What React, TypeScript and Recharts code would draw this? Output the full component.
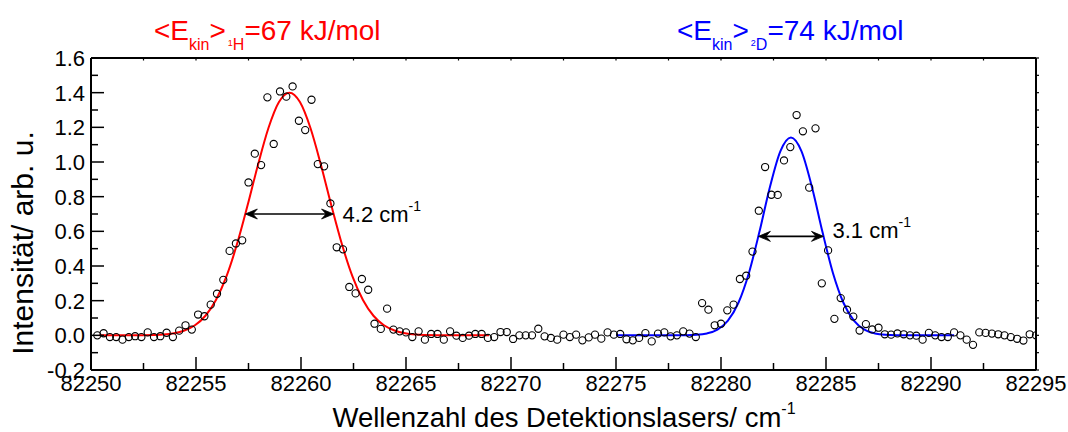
import React from "react";
import { ComposedChart, XAxis, YAxis, Scatter, Line, ReferenceLine } from "recharts";

const FONT = "Arial, 'Liberation Sans', Helvetica, sans-serif";

// Scan positions of the detection laser (cm^-1)
const scanX = [
  82250.3, 82250.6, 82250.9, 82251.2, 82251.5, 82251.8, 82252.1, 82252.4, 82252.7, 82253.0,
  82253.3, 82253.6, 82253.9, 82254.2, 82254.5, 82254.8, 82255.1, 82255.4, 82255.7, 82256.0,
  82256.3, 82256.6, 82256.9, 82257.2, 82257.5, 82257.8, 82258.1, 82258.4, 82258.7, 82259.0,
  82259.3, 82259.6, 82259.9, 82260.2, 82260.5, 82260.8, 82261.1, 82261.4, 82261.7, 82262.0,
  82262.3, 82262.6, 82262.9, 82263.2, 82263.5, 82263.8, 82264.1, 82264.4, 82264.7, 82265.0,
  82265.3, 82265.6, 82265.9, 82266.2, 82266.5, 82266.8, 82267.1, 82267.4, 82267.7, 82268.0,
  82268.3, 82268.6, 82268.9, 82269.2, 82269.5, 82269.8, 82270.1, 82270.4, 82270.7, 82271.0,
  82271.3, 82271.6, 82271.9, 82272.2, 82272.5, 82272.8, 82273.1, 82273.4, 82273.7, 82274.0,
  82274.3, 82274.6, 82274.9, 82275.2, 82275.5, 82275.8, 82276.1, 82276.4, 82276.7, 82277.0,
  82277.3, 82277.6, 82277.9, 82278.2, 82278.5, 82278.8, 82279.1, 82279.4, 82279.7, 82280.0,
  82280.3, 82280.6, 82280.9, 82281.2, 82281.5, 82281.8, 82282.1, 82282.4, 82282.7, 82283.0,
  82283.3, 82283.6, 82283.9, 82284.2, 82284.5, 82284.8, 82285.1, 82285.4, 82285.7, 82286.0,
  82286.3, 82286.6, 82286.9, 82287.2, 82287.5, 82287.8, 82288.1, 82288.4, 82288.7, 82289.0,
  82289.3, 82289.6, 82289.9, 82290.2, 82290.5, 82290.8, 82291.1, 82291.4, 82291.7, 82292.0,
  82292.3, 82292.6, 82292.9, 82293.2, 82293.5, 82293.8, 82294.1, 82294.4, 82294.7, 82295.0,
];

// Measured signal intensity (arb. u.)
const scanY = [
  0.0, 0.012, -0.01, -0.01, -0.025, -0.01, -0.005, -0.01, 0.017, -0.01,
  -0.005, 0.015, -0.01, 0.027, 0.058, 0.033, 0.12, 0.11, 0.177, 0.24,
  0.32, 0.487, 0.53, 0.548, 0.882, 1.048, 0.982, 1.373, 1.104, 1.407,
  1.377, 1.436, 1.238, 1.184, 1.359, 0.988, 0.975, 0.761, 0.508, 0.496,
  0.279, 0.242, 0.325, 0.263, 0.067, 0.037, 0.154, 0.033, 0.023, 0.017,
  -0.01, 0.023, -0.025, 0.008, 0.008, -0.025, 0.023, -0.002, -0.015, -0.002,
  0.008, 0.008, -0.015, -0.01, 0.019, 0.019, -0.021, 0.0, 0.0, 0.0,
  0.038, -0.006, -0.015, -0.025, 0.004, -0.01, 0.004, -0.029, -0.012, 0.004,
  -0.019, 0.017, 0.004, 0.008, -0.023, -0.029, -0.015, 0.013, -0.035, 0.01,
  0.017, -0.006, 0.0, 0.023, 0.01, -0.01, 0.186, 0.148, 0.058, 0.067,
  0.144, 0.177, 0.325, 0.344, 0.483, 0.719, 0.971, 0.811, 0.81, 1.009,
  1.086, 1.271, 1.177, 0.852, 1.194, 0.3, 0.49, 0.095, 0.215, 0.148,
  0.108, 0.028, 0.065, 0.034, 0.044, 0.006, 0.004, 0.011, 0.006, 0.0,
  -0.002, -0.025, 0.014, 0.0, -0.01, -0.01, 0.017, 0.0, -0.025, -0.055,
  0.017, 0.014, 0.01, 0.006, 0.0, -0.01, -0.02, -0.03, 0.006, 0.0,
];

// Gaussian fit of the 1H line
const redFitX = [
  82250.4, 82251.45, 82252.45, 82253.45, 82253.95, 82254.45, 82254.95, 82255.45, 82255.95, 82256.45,
  82256.95, 82257.45, 82257.95, 82258.45, 82258.95, 82259.45, 82259.95, 82260.45, 82260.95, 82261.45,
  82261.95, 82262.45, 82262.95, 82263.45, 82263.95, 82264.45, 82264.95, 82265.45, 82266.45, 82267.45,
  82268.95,
];
const redFitY = [
  0, 0, 0.001, 0.005, 0.012, 0.028, 0.058, 0.113, 0.204, 0.34,
  0.525, 0.747, 0.983, 1.196, 1.346, 1.4, 1.346, 1.196, 0.983, 0.747,
  0.525, 0.34, 0.204, 0.113, 0.058, 0.028, 0.012, 0.005, 0.001, 0,
  0,
];

// Gaussian fit of the 2D line
const blueFitX = [
  82275.0, 82277.33, 82278.33, 82278.83, 82279.33, 82279.83, 82280.33, 82280.83, 82281.33, 82281.83,
  82282.33, 82282.83, 82283.33, 82283.83, 82284.33, 82284.83, 82285.33, 82285.83, 82286.33, 82286.83,
  82287.33, 82287.83, 82288.33, 82289.33, 82291.1,
];
const blueFitY = [
  0, 0, 0.001, 0.003, 0.011, 0.033, 0.085, 0.188, 0.36, 0.597,
  0.856, 1.063, 1.142, 1.063, 0.856, 0.597, 0.36, 0.188, 0.085, 0.033,
  0.011, 0.003, 0.001, 0, 0,
];

// Fit parameters: line centre, peak height, full width at half maximum
const redCenter = 82259.45;
const redPeak = 1.4;
const redFwhm = 4.2;
const blueCenter = 82283.33;
const bluePeak = 1.142;
const blueFwhm = 3.1;

const xTicks = [
  82250, 82252.5, 82255, 82257.5, 82260, 82262.5, 82265, 82267.5, 82270, 82272.5,
  82275, 82277.5, 82280, 82282.5, 82285, 82287.5, 82290, 82292.5, 82295,
];
const yTicks = [
  -0.2, -0.1, 0, 0.1, 0.2, 0.3, 0.4, 0.5, 0.6, 0.7, 0.8, 0.9, 1.0, 1.1, 1.2, 1.3, 1.4, 1.5, 1.6,
];

const scanPoints = scanX.map((x, i) => ({ x, y: scanY[i] }));
const redFit = redFitX.map((x, i) => ({ x, y: redFitY[i] }));
const blueFit = blueFitX.map((x, i) => ({ x, y: blueFitY[i] }));

const isMajorX = (v: number) => Math.abs(v / 5 - Math.round(v / 5)) < 1e-6;
const isMajorY = (v: number) => Math.round(v * 10) % 2 === 0;

const BottomTick = (props: any) => {
  const { x, y, payload } = props;
  const v = payload.value as number;
  const major = isMajorX(v);
  return (
    <g>
      <line x1={x} x2={x} y1={y} y2={y - (major ? 13 : 7)} stroke="#000" strokeWidth={1.5} />
      {major && (
        <text x={x} y={y + 21} textAnchor="middle" fontSize={22} fontFamily={FONT} fill="#000">
          {v}
        </text>
      )}
    </g>
  );
};

const TopTick = (props: any) => {
  const { x, y } = props;
  return <line x1={x} x2={x} y1={y} y2={y + 2.5} stroke="#000" strokeWidth={1.2} />;
};

const LeftTick = (props: any) => {
  const { x, y, payload } = props;
  const v = payload.value as number;
  const major = isMajorY(v);
  return (
    <g>
      <line x1={x} x2={x + (major ? 13 : 7)} y1={y} y2={y} stroke="#000" strokeWidth={1.5} />
      {major && (
        <text x={x - 6} y={y + 8} textAnchor="end" fontSize={22} fontFamily={FONT} fill="#000">
          {v.toFixed(1)}
        </text>
      )}
    </g>
  );
};

const RightTick = (props: any) => {
  const { x, y } = props;
  return <line x1={x} x2={x + 3} y1={y} y2={y} stroke="#000" strokeWidth={1.2} />;
};

const HollowCircle = (props: any) => {
  const { cx, cy } = props;
  if (cx == null || cy == null) return <g />;
  return <circle cx={cx} cy={cy} r={3.6} fill="none" stroke="#000" strokeWidth={1.1} />;
};

// Double-headed arrow spanning the FWHM, with its width written beside it
const makeFwhmArrow = (fwhm: number, labelDy: number) => (props: any) => {
  const { x1, y1, x2 } = props;
  const left = Math.min(x1, x2);
  const right = Math.max(x1, x2);
  const y = y1;
  const head = (tip: number, dir: number) =>
    `M${tip},${y} L${tip + dir * 12},${y - 5} L${tip + dir * 7.5},${y} L${tip + dir * 12},${y + 5} Z`;
  return (
    <g>
      <line x1={left + 3} x2={right - 3} y1={y} y2={y} stroke="#000" strokeWidth={1.6} />
      <path d={head(left, 1)} fill="#000" stroke="#000" strokeWidth={0.8} />
      <path d={head(right, -1)} fill="#000" stroke="#000" strokeWidth={0.8} />
      <text x={right + 9} y={y + labelDy} fontSize={22} fontFamily={FONT} fill="#000">
        {`${fwhm.toFixed(1)} cm`}
        <tspan dy={-11} fontSize={14}>
          -1
        </tspan>
      </text>
    </g>
  );
};

const redArrow = makeFwhmArrow(redFwhm, 8);
const blueArrow = makeFwhmArrow(blueFwhm, 2);

export default function App() {
  return (
    <div style={{ position: "fixed", left: 0, top: 0, width: 1068, height: 432, background: "#fff" }}>
      <ComposedChart
        width={1068}
        height={432}
        margin={{ top: 57, right: 31, bottom: 32, left: 1 }}
      >
        <XAxis
          xAxisId={0}
          dataKey="x"
          type="number"
          orientation="bottom"
          domain={[82250, 82295]}
          ticks={xTicks}
          interval={0}
          allowDataOverflow
          height={30}
          tickSize={0}
          tickMargin={0}
          tickLine={false}
          axisLine={{ stroke: "#000", strokeWidth: 2 }}
          tick={BottomTick}
        />
        <XAxis
          xAxisId="top"
          dataKey="x"
          type="number"
          orientation="top"
          domain={[82250, 82295]}
          ticks={xTicks}
          interval={0}
          allowDataOverflow
          height={1}
          tickSize={0}
          tickMargin={0}
          tickLine={false}
          axisLine={{ stroke: "#000", strokeWidth: 2 }}
          tick={TopTick}
        />
        <YAxis
          yAxisId={0}
          dataKey="y"
          type="number"
          orientation="left"
          domain={[-0.2, 1.6]}
          ticks={yTicks}
          interval={0}
          allowDataOverflow
          width={90}
          tickSize={0}
          tickMargin={0}
          tickLine={false}
          axisLine={{ stroke: "#000", strokeWidth: 2 }}
          tick={LeftTick}
        />
        <YAxis
          yAxisId="right"
          dataKey="y"
          type="number"
          orientation="right"
          domain={[-0.2, 1.6]}
          ticks={yTicks}
          interval={0}
          allowDataOverflow
          width={1}
          tickSize={0}
          tickMargin={0}
          tickLine={false}
          axisLine={{ stroke: "#000", strokeWidth: 2 }}
          tick={RightTick}
        />
        <Scatter
          data={scanPoints}
          shape={HollowCircle}
          isAnimationActive={false}
        />
        <Line
          data={redFit}
          dataKey="y"
          type="monotone"
          stroke="#ff0000"
          strokeWidth={2}
          dot={false}
          activeDot={false}
          isAnimationActive={false}
        />
        <Line
          data={blueFit}
          dataKey="y"
          type="monotone"
          stroke="#0000ff"
          strokeWidth={2}
          dot={false}
          activeDot={false}
          isAnimationActive={false}
        />
        <ReferenceLine
          segment={[
            { x: redCenter - redFwhm / 2, y: redPeak / 2 },
            { x: redCenter + redFwhm / 2, y: redPeak / 2 },
          ]}
          shape={redArrow}
        />
        <ReferenceLine
          segment={[
            { x: blueCenter - blueFwhm / 2, y: bluePeak / 2 },
            { x: blueCenter + blueFwhm / 2, y: bluePeak / 2 },
          ]}
          shape={blueArrow}
        />
      </ComposedChart>
      <svg
        width={1068}
        height={432}
        style={{ position: "absolute", left: 0, top: 0, pointerEvents: "none" }}
        fontFamily={FONT}
      >
        <text x={154} y={40} fontSize={28} fill="#ff0000">
          <tspan>{"<E"}</tspan>
          <tspan fontSize={16} dy={10}>kin</tspan>
          <tspan dy={-10}>{">"}</tspan>
          <tspan fontSize={9} dx={2} dy={6}>1</tspan>
          <tspan fontSize={16} dy={4}>H</tspan>
          <tspan dy={-10}>=67 kJ/mol</tspan>
        </text>
        <text x={677} y={40} fontSize={28} fill="#0000ff">
          <tspan>{"<E"}</tspan>
          <tspan fontSize={16} dy={10}>kin</tspan>
          <tspan dy={-10}>{">"}</tspan>
          <tspan fontSize={9} dx={2} dy={6}>2</tspan>
          <tspan fontSize={16} dy={4}>D</tspan>
          <tspan dy={-10}>=74 kJ/mol</tspan>
        </text>
        <text x={564} y={427} textAnchor="middle" fontSize={27.5} fill="#000">
          Wellenzahl des Detektionslasers/ cm
          <tspan dy={-13} fontSize={16}>-1</tspan>
        </text>
        <text transform="translate(33,243) rotate(-90)" textAnchor="middle" fontSize={30} fill="#000">
          Intensität/ arb. u.
        </text>
      </svg>
    </div>
  );
}
